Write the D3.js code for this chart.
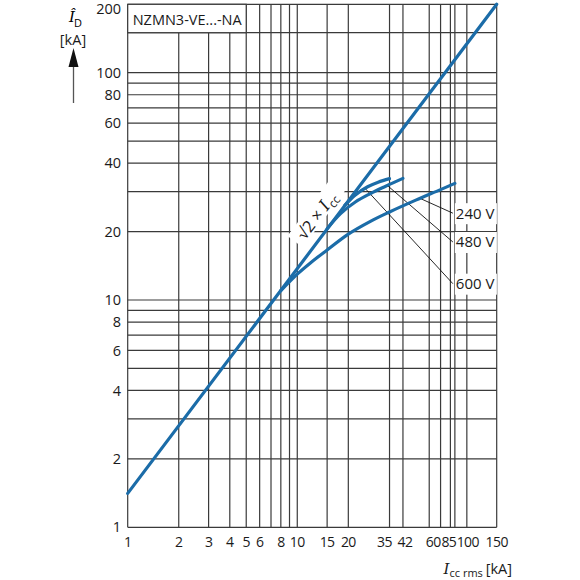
<!DOCTYPE html>
<html>
<head>
<meta charset="utf-8">
<script src="https://cdn.jsdelivr.net/npm/d3@7"></script>
<style>
body{margin:0;background:#fff;}
svg{display:block;font-family:"Open Sans",sans-serif;}
.grid{stroke:#3a3a3a;stroke-width:1.2;fill:none;}
.tick-label{font-size:14px;fill:#1a1a1a;}
.xlab{letter-spacing:-0.6px;}
.curve{fill:none;stroke:#1b6ca8;stroke-width:3.2;stroke-linecap:round;}
.leader{stroke:#111;stroke-width:0.9;fill:none;}
</style>
</head>
<body>
<div id="chart"></div>
<script>
// valores
var xTicks = [1,2,3,4,5,6,8,10,15,20,35,42,60,85,100,150];
var xGrid = [1,2,3,4,5,6,7,8,9,10,15,20,35,42,60,70,80,85,100,150];
var yTicks = [1,2,4,6,8,10,20,40,60,80,100,200];
var yGrid = [1,2,3,4,5,6,7,8,9,10,20,30,40,50,60,70,80,90,100,150,200];

var sqrt2Line = [[1,1.41],[150,200]];
var curve240 = [[8,11.0],[10,13.0],[12,14.6],[15,16.6],[20,19.5],[27,22.2],[35,24.4],[50,27.5],[70,30.6],[85,32.6]];
var curve480 = [[15,20.6],[18,24.0],[22,27.0],[27,29.4],[33,31.6],[42,34.3]];
var curve600 = [[19,26.0],[22,29.0],[26,31.5],[30,33.0],[35,34.2]];

// rótulos: texto, ponto na curva, posição do rótulo
var voltLabels = [
	{text:"240 V", from:[53,28.0], at:[85,24.1]},
	{text:"480 V", from:[34,31.9], at:[85,18.0]},
	{text:"600 V", from:[25,31.1], at:[85,11.8]}
];

// deslocamento horizontal dos rótulos apertados do eixo x (px)
var xNudge = {35:-5, 42:2, 60:4, 85:-6, 100:1};

var width = 580, height = 580;
var x = d3.scaleLog().domain([1,150]).range([127.7,496.7]);
var y = d3.scaleLog().domain([1,200]).range([527.3,4.3]);

var svg = d3.select('#chart').append('svg')
	.attr('width',width).attr('height',height);

var g = svg.append('g');

g.selectAll('.vgrid').data(xGrid).enter()
	.append('line').attr('class','grid vgrid')
	.attr('x1',function(d){return x(d);}).attr('x2',function(d){return x(d);})
	.attr('y1',y(1)).attr('y2',y(200));

g.selectAll('.hgrid').data(yGrid).enter()
	.append('line').attr('class','grid hgrid')
	.attr('x1',x(1)).attr('x2',x(150))
	.attr('y1',function(d){return y(d);}).attr('y2',function(d){return y(d);});

// caixa do título
g.append('rect').attr('class','grid')
	.attr('x',x(1)).attr('y',y(200))
	.attr('width',x(5)-x(1)).attr('height',y(150)-y(200))
	.style('fill','#fff');
g.append('text').attr('x',x(1)+5).attr('y',y(200)+21)
	.style('font-size','14.5px').style('fill','#1a1a1a')
	.text('NZMN3-VE...-NA');

// eixos
g.selectAll('.ylab').data(yTicks).enter()
	.append('text').attr('class','tick-label ylab')
	.attr('x',121).attr('text-anchor','end')
	.attr('y',function(d){return Math.max(y(d),8.5);})
	.attr('dy','0.35em')
	.style('font-size','14.5px')
	.text(function(d){return d;});

g.selectAll('.xlab').data(xTicks).enter()
	.append('text').attr('class','tick-label xlab')
	.attr('x',function(d){return x(d) + (xNudge[d] || 0);}).attr('y',547)
	.attr('text-anchor','middle')
	.text(function(d){return d;});

var line = d3.line()
	.x(function(d){return x(d[0]);})
	.y(function(d){return y(d[1]);})
	.curve(d3.curveCatmullRom.alpha(0.5));

// linhas de chamada
var labs = g.selectAll('.volt').data(voltLabels).enter().append('g').attr('class','volt');
labs.append('line').attr('class','leader')
	.attr('x1',function(d){return x(d.from[0]);}).attr('y1',function(d){return y(d.from[1]);})
	.attr('x2',function(d){return x(d.at[0])-2;}).attr('y2',function(d){return y(d.at[1]);});
labs.append('rect')
	.attr('x',function(d){return x(d.at[0]);}).attr('y',function(d){return y(d.at[1])-10;})
	.attr('width',42).attr('height',21).style('fill','#fff');
labs.append('text')
	.attr('x',function(d){return x(d.at[0])+1;}).attr('y',function(d){return y(d.at[1]);})
	.attr('dy','0.36em')
	.style('font-size','15px').style('fill','#1a1a1a')
	.text(function(d){return d.text;});

[sqrt2Line, curve240, curve480, curve600].forEach(function(c){
	g.append('path').datum(c).attr('class','curve').attr('d',line);
});

// rótulo da reta √2 x Icc
var ang = Math.atan2(y(sqrt2Line[1][1])-y(sqrt2Line[0][1]), x(sqrt2Line[1][0])-x(sqrt2Line[0][0]))*180/Math.PI;
var lx = 317.5, ly = 216;
var sl = g.append('g').attr('transform','translate('+lx+','+ly+') rotate('+ang+')');
sl.append('rect').attr('x',-34).attr('y',-12).attr('width',70).attr('height',19).style('fill','#fff');
var st = sl.append('text').attr('text-anchor','middle').attr('dy','0.3em')
	.style('font-size','16.5px').style('fill','#1a1a1a');
st.append('tspan').text('\u221A2 \u00D7 ');
st.append('tspan').style('font-family','"DejaVu Serif",serif').style('font-style','italic').text('I');
st.append('tspan').attr('dy','4').style('font-size','12px').text('cc');

// rótulo do eixo y
var ya = g.append('g');
ya.append('text').attr('x',72).attr('y',22).attr('text-anchor','middle')
	.style('font-family','"DejaVu Serif",serif').style('font-style','italic').style('font-size','15px')
	.text('\u00CE');
ya.append('text').attr('x',78).attr('y',27).attr('text-anchor','middle')
	.style('font-size','11px').text('D');
ya.append('text').attr('x',73).attr('y',45).attr('text-anchor','middle')
	.style('font-size','14.5px').style('fill','#1a1a1a').text('[kA]');
ya.append('line').attr('x1',73.5).attr('x2',73.5).attr('y1',64).attr('y2',103)
	.style('stroke','#555').style('stroke-width',1.3);
ya.append('path').attr('d','M73.5,48 L78.5,67 L68.5,67 Z').style('fill','#111');

// rótulo do eixo x
var xl = g.append('text').attr('x',512).attr('y',574).attr('text-anchor','end')
	.style('font-size','14.5px').style('fill','#1a1a1a');
xl.append('tspan').style('font-family','"DejaVu Serif",serif').style('font-style','italic').style('font-size','15px').text('I');
xl.append('tspan').attr('dy','3').style('font-size','11px').text('cc rms ');
xl.append('tspan').attr('dy','-3').text('[kA]');
</script>
</body>
</html>
